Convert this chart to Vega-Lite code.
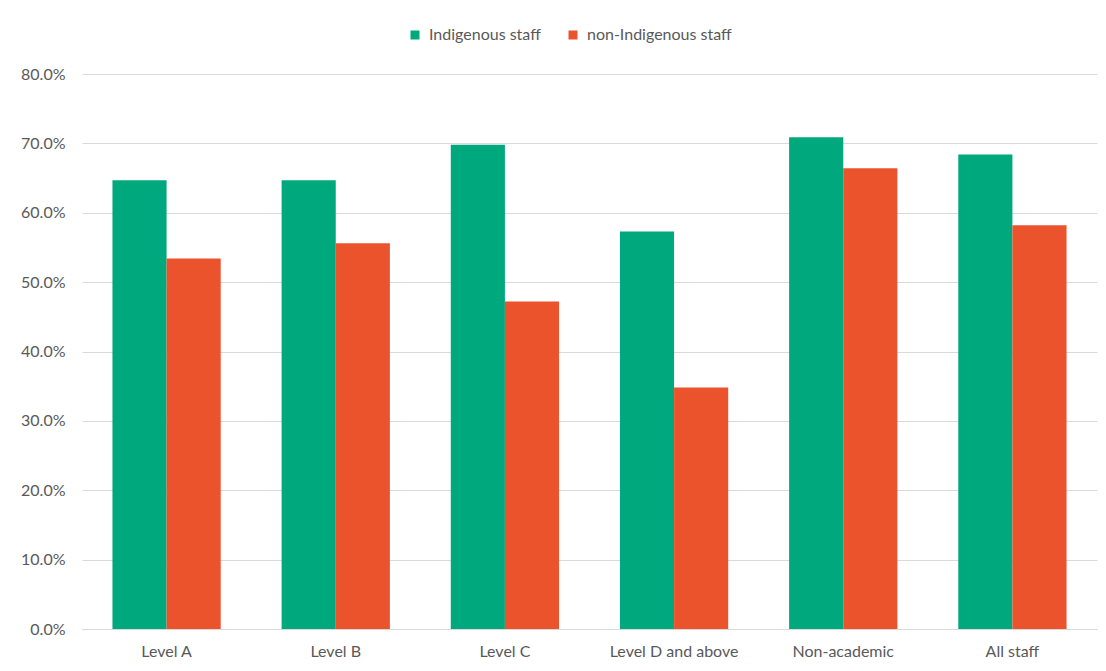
{
  "$schema": "https://vega.github.io/schema/vega-lite/v6.json",
  "width": 1015,
  "height": 555,
  "autosize": "none",
  "padding": {"left": 82, "top": 74, "right": 9, "bottom": 42},
  "background": "white",
  "config": {
    "font": "Lato",
    "view": {"stroke": null},
    "axis": {"labelFont": "Lato", "labelColor": "#595959", "labelFontSize": 16}
  },
  "data": {
    "values": [
      {"category": "Level A", "group": "Indigenous staff", "value": 0.647},
      {"category": "Level A", "group": "non-Indigenous staff", "value": 0.534},
      {"category": "Level B", "group": "Indigenous staff", "value": 0.647},
      {"category": "Level B", "group": "non-Indigenous staff", "value": 0.556},
      {"category": "Level C", "group": "Indigenous staff", "value": 0.698},
      {"category": "Level C", "group": "non-Indigenous staff", "value": 0.472},
      {"category": "Level D and above", "group": "Indigenous staff", "value": 0.573},
      {"category": "Level D and above", "group": "non-Indigenous staff", "value": 0.348},
      {"category": "Non-academic", "group": "Indigenous staff", "value": 0.709},
      {"category": "Non-academic", "group": "non-Indigenous staff", "value": 0.664},
      {"category": "All staff", "group": "Indigenous staff", "value": 0.684},
      {"category": "All staff", "group": "non-Indigenous staff", "value": 0.582}
    ]
  },
  "mark": {"type": "bar"},
  "encoding": {
    "x": {
      "field": "category",
      "type": "nominal",
      "sort": null,
      "title": null,
      "scale": {"paddingInner": 0.36, "paddingOuter": 0.18},
      "axis": {"labelAngle": 0, "ticks": false, "domain": true, "domainColor": "#d9d9d9", "domainWidth": 1, "labelPadding": 14}
    },
    "xOffset": {"field": "group", "type": "nominal", "scale": {"paddingInner": 0, "paddingOuter": 0}},
    "y": {
      "field": "value",
      "type": "quantitative",
      "title": null,
      "scale": {"domain": [0, 0.8], "nice": false},
      "axis": {"values": [0, 0.1, 0.2, 0.3, 0.4, 0.5, 0.6, 0.7, 0.8], "format": ".1%", "ticks": false, "domain": false, "gridColor": "#d9d9d9", "gridWidth": 1, "labelPadding": 17}
    },
    "color": {
      "field": "group",
      "type": "nominal",
      "title": null,
      "scale": {"domain": ["Indigenous staff", "non-Indigenous staff"], "range": ["#00A87E", "#EB532C"]},
      "legend": {
        "orient": "none",
        "direction": "horizontal",
        "legendX": 325,
        "legendY": -47,
        "symbolType": "square",
        "symbolSize": 81,
        "symbolStrokeWidth": 0,
        "labelFontSize": 16,
        "labelColor": "#595959",
        "labelFont": "Lato",
        "columnPadding": 24,
        "labelOffset": 6
      }
    }
  }
}
